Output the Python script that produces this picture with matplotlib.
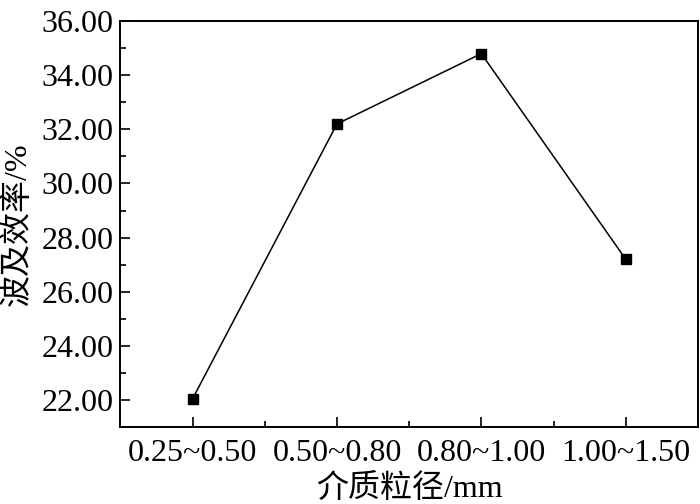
import matplotlib.pyplot as plt
from matplotlib.ticker import MultipleLocator, FixedLocator

plt.rcParams['font.family'] = ['Liberation Serif', 'Noto Sans CJK SC']

categories = ['0.25~0.50', '0.50~0.80', '0.80~1.00', '1.00~1.50']
efficiency = [22.04, 32.2, 34.8, 27.2]

fig = plt.figure(figsize=(7, 5.04), dpi=100)
ax = fig.add_axes([0.172, 0.153, 0.825, 0.805])

x = list(range(1, len(categories) + 1))
ax.plot(x, efficiency, color='black', lw=1.1, marker='s', markersize=7,
        markerfacecolor='black')

ax.set_xlim(0.5, 4.5)
ax.set_ylim(21, 36)
ax.set_xticks(x)
ax.set_xticklabels(categories)
ax.xaxis.set_minor_locator(FixedLocator([1.5, 2.5, 3.5]))
ax.yaxis.set_minor_locator(MultipleLocator(1))
ax.set_yticks(range(22, 37, 2))
ax.yaxis.set_major_formatter(plt.FuncFormatter(lambda v, p: f'{v:.2f}'))

ax.tick_params(which='major', direction='in', length=7, width=1.2, labelsize=23)
ax.tick_params(axis='x', which='major', pad=9)
ax.tick_params(axis='y', which='major', pad=5)
ax.tick_params(which='minor', direction='in', length=4, width=1.2)
for s in ax.spines.values():
    s.set_linewidth(1.4)

ax.set_ylabel('波及效率/%', fontsize=23, labelpad=6)
ax.set_xlabel('介质粒径/mm', fontsize=23, labelpad=4)

fig.savefig('out.png', dpi=100)
